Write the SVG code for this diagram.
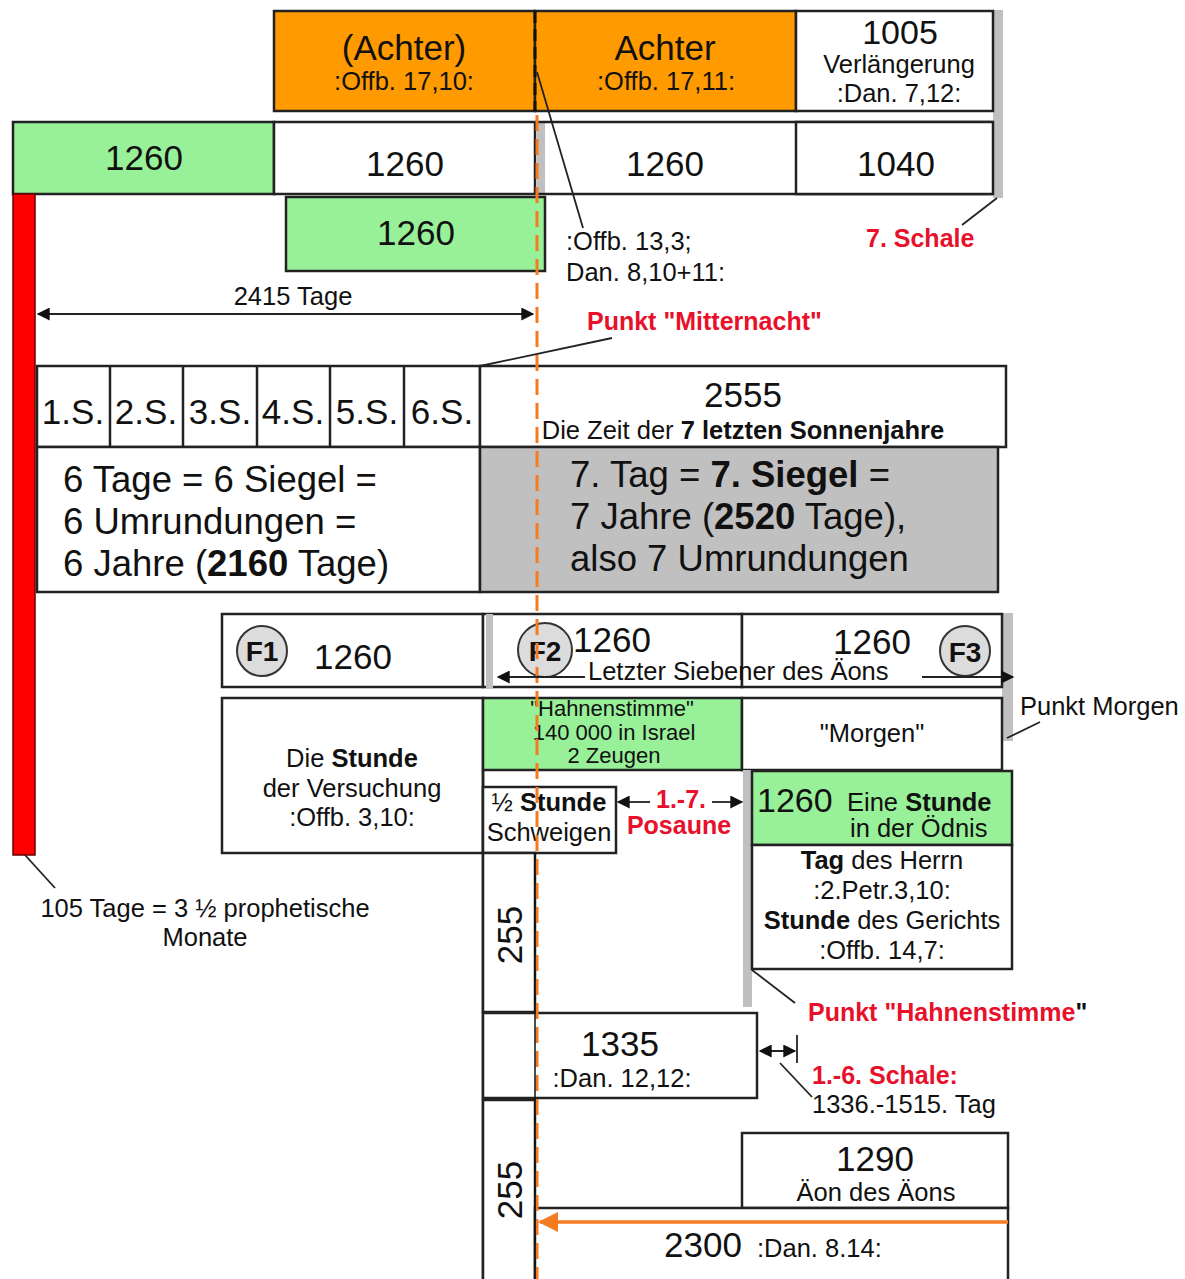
<svg xmlns="http://www.w3.org/2000/svg" width="1185" height="1279" viewBox="0 0 1185 1279">
<style>
text{font-family:"Liberation Sans",Arial,sans-serif;fill:#111}
.b{stroke:#222;stroke-width:2.5}
.w{fill:#fff}
.o{fill:#FF9A00}
.g{fill:#98F098}
.gr{fill:#C0C0C0}
.c{text-anchor:middle}
.bd{font-weight:bold}
.red{fill:#E8102A;font-weight:bold;font-size:25px}
.big{font-size:35px}
.mid{font-size:25.5px}
.par{font-size:36.5px}
.ln{stroke:#222;stroke-width:1.8;fill:none}
.circ{fill:#DCDCDC;stroke:#333;stroke-width:2}
</style>
<defs>
<marker id="ahb" viewBox="0 0 10 10" refX="9" refY="5" markerWidth="16" markerHeight="13" orient="auto-start-reverse" markerUnits="userSpaceOnUse"><path d="M0,0L10,5L0,10z" fill="#111"/></marker>
<marker id="aho" viewBox="0 0 10 10" refX="9" refY="5" markerWidth="20" markerHeight="22" orient="auto-start-reverse" markerUnits="userSpaceOnUse"><path d="M0,0L10,5L0,10z" fill="#F47B20"/></marker>
</defs>

<!-- gray strips -->
<rect class="gr" x="993" y="10" width="10" height="188"/>
<rect class="gr" x="537" y="122" width="8" height="73"/>

<g id="achter1"><rect class="o b" x="274" y="11" width="261" height="100"/>
<text class="c big" x="404" y="60">(Achter)</text><text class="c mid" x="404" y="90">:Offb. 17,10:</text></g>
<g id="achter2"><rect class="o b" x="535" y="11" width="261" height="100"/>
<text class="c big" x="665" y="60">Achter</text><text class="c mid" x="666" y="90">:Offb. 17,11:</text></g>
<g id="n1005"><rect class="w b" x="796" y="11" width="197" height="100"/>
<text class="c" x="900" y="44" font-size="34">1005</text><text class="c mid" x="899" y="73">Verlängerung</text><text class="c mid" x="899" y="102">:Dan. 7,12:</text></g>

<g id="row2a"><rect class="g b" x="13" y="122" width="261" height="72"/><text class="c big" x="144" y="170">1260</text></g>
<g id="row2b"><rect class="w b" x="274" y="122" width="261" height="72"/><text class="c big" x="405" y="176">1260</text></g>
<g id="row2c"><line class="b" x1="535" y1="122" x2="993" y2="122"/><line class="b" x1="535" y1="194" x2="993" y2="194"/><text class="c big" x="665" y="176">1260</text></g>
<g id="row2d"><rect class="w b" x="796" y="122" width="197" height="72"/><text class="c big" x="896" y="176">1040</text></g>

<g id="redbar"><rect x="13" y="194" width="22" height="661" fill="#FF0000" stroke="#600" stroke-width="1.5"/></g>

<g id="green2"><rect class="g b" x="286" y="197" width="259" height="74"/><text class="c big" x="416" y="245">1260</text></g>

<g id="offb133"><text class="mid" x="566" y="250" font-size="24">:Offb. 13,3;</text><text class="mid" x="566" y="281" font-size="24">Dan. 8,10+11:</text></g>
<g id="schale7"><text class="red" x="866" y="247">7. Schale</text></g>

<g id="tage2415"><text class="c mid" x="293" y="305">2415 Tage</text></g>
<g id="mitternacht"><text class="red" x="587" y="330">Punkt "Mitternacht"</text></g>

<g id="seals">
<rect class="w b" x="37" y="366" width="443" height="81"/>
<line class="b" x1="110" y1="366" x2="110" y2="447"/><line class="b" x1="183" y1="366" x2="183" y2="447"/><line class="b" x1="257" y1="366" x2="257" y2="447"/><line class="b" x1="330" y1="366" x2="330" y2="447"/><line class="b" x1="404" y1="366" x2="404" y2="447"/>
<g class="c big"><text x="73" y="424">1.S.</text><text x="146" y="424">2.S.</text><text x="220" y="424">3.S.</text><text x="293" y="424">4.S.</text><text x="367" y="424">5.S.</text><text x="442" y="424">6.S.</text></g>
</g>
<g id="n2555"><rect class="w b" x="480" y="366" width="526" height="81"/><text class="c big" x="743" y="407">2555</text><text class="c mid" x="743" y="439">Die Zeit der <tspan class="bd">7 letzten Sonnenjahre</tspan></text></g>

<g id="sechs"><rect class="w b" x="37" y="447" width="443" height="145"/>
<g class="par"><text x="63" y="492">6 Tage = 6 Siegel =</text><text x="63" y="534">6 Umrundungen =</text><text x="63" y="576">6 Jahre (<tspan class="bd">2160</tspan> Tage)</text></g></g>
<g id="sieben"><rect class="gr b" x="480" y="447" width="518" height="145"/>
<g class="par"><text x="570" y="487">7. Tag = <tspan class="bd">7. Siegel</tspan> =</text><text x="570" y="529">7 Jahre (<tspan class="bd">2520</tspan> Tage),</text><text x="570" y="571">also 7 Umrundungen</text></g></g>

<!-- F row -->
<rect class="gr" x="1002" y="613" width="11" height="128"/>
<g id="f1"><rect class="w b" x="222" y="614" width="261" height="73"/><circle class="circ" cx="262" cy="651" r="25"/><text class="c bd" x="262" y="661" font-size="28">F1</text><text class="c big" x="353" y="669">1260</text></g>
<g id="f2"><rect class="w b" x="483" y="614" width="259" height="73"/><rect class="gr" x="486" y="614" width="7" height="75"/><circle class="circ" cx="545" cy="650" r="27"/><text class="c bd" x="545" y="661" font-size="28">F2</text><text x="573" y="652" class="big">1260</text></g>
<g id="f3"><rect class="w b" x="742" y="614" width="260" height="73"/><circle class="circ" cx="965" cy="651" r="25"/><text class="c bd" x="965" y="662" font-size="28">F3</text><text x="833" y="654" class="big">1260</text></g>
<g id="siebener"><text class="mid" x="588" y="680">Letzter Siebener des Äons</text></g>

<g id="versuchung"><rect class="w b" x="222" y="698" width="261" height="155"/><g class="c mid"><text x="352" y="767">Die <tspan class="bd">Stunde</tspan></text><text x="352" y="797">der Versuchung</text><text x="352" y="826">:Offb. 3,10:</text></g></g>
<g id="hahnen"><rect class="g b" x="483" y="698" width="259" height="72"/><g class="c" font-size="22"><text x="612" y="716">"Hahnenstimme"</text><text x="614" y="740">140 000 in Israel</text><text x="614" y="763">2 Zeugen</text></g></g>
<g id="morgen"><rect class="w b" x="742" y="698" width="260" height="72"/><text class="c mid" x="872" y="742">"Morgen"</text></g>
<g id="punktmorgen"><text class="mid" x="1020" y="715">Punkt Morgen</text></g>

<!-- middle column -->
<rect class="gr" x="743" y="770" width="9" height="237"/>
<line class="b" x1="483" y1="770" x2="483" y2="1279"/>
<g id="halb"><rect class="w b" x="483" y="787" width="133" height="66"/><g class="c mid"><text x="549" y="811">½ <tspan class="bd">Stunde</tspan></text><text x="549" y="841">Schweigen</text></g></g>
<g id="posaune"><text class="red c" x="681" y="808">1.-7.</text><text class="red c" x="679" y="834">Posaune</text></g>
<g id="oednis"><rect class="g b" x="752" y="771" width="260" height="74"/><text x="757" y="812" font-size="34">1260</text><text class="mid" x="847" y="811">Eine <tspan class="bd">Stunde</tspan></text><text class="mid" x="850" y="837">in der Ödnis</text></g>
<g id="herrn"><rect class="w b" x="752" y="845" width="260" height="124"/><g class="c mid"><text x="882" y="869"><tspan class="bd">Tag</tspan> des Herrn</text><text x="882" y="899">:2.Petr.3,10:</text><text x="882" y="929"><tspan class="bd">Stunde</tspan> des Gerichts</text><text x="882" y="959">:Offb. 14,7:</text></g></g>
<g id="punkthahnen"><text class="red" x="808" y="1021">Punkt "Hahnenstimme<tspan fill="#111">"</tspan></text></g>

<g id="s255a"><rect class="w b" x="483" y="853" width="52" height="159"/><text class="c big" transform="translate(522,935) rotate(-90)">255</text></g>
<g id="n1335"><rect class="w b" x="483" y="1013" width="274" height="85"/><text class="c big" x="620" y="1056">1335</text><text class="c mid" x="622" y="1087">:Dan. 12,12:</text></g>
<g id="schale16"><text class="red" x="812" y="1084">1.-6. Schale:</text><text class="mid" x="812" y="1113">1336.-1515. Tag</text></g>
<g id="s255b"><rect class="w b" x="483" y="1100" width="52" height="190"/><text class="c big" transform="translate(522,1190) rotate(-90)">255</text></g>
<g id="n1290"><rect class="w b" x="742" y="1133" width="266" height="75"/><text class="c big" x="875" y="1171">1290</text><text class="c mid" x="876" y="1201">Äon des Äons</text></g>
<g id="n2300"><rect class="w b" x="535" y="1208" width="473" height="90"/><text x="664" y="1257" class="big">2300</text><text class="mid" x="757" y="1257">:Dan. 8.14:</text></g>

<g id="tage105"><text class="c mid" x="205" y="917">105 Tage = 3 ½ prophetische</text><text class="c mid" x="205" y="946">Monate</text></g>

<g id="connectors">
<line x1="535" y1="11" x2="535" y2="111" stroke="#111" stroke-width="3" stroke-dasharray="12 6"/>
<line x1="537" y1="115" x2="537" y2="1279" stroke="#F47B20" stroke-width="3" stroke-dasharray="16 8"/>
<line x1="537" y1="72" x2="583" y2="228" class="ln"/>
<line x1="997" y1="198" x2="962" y2="225" class="ln"/>
<line x1="38" y1="314" x2="533" y2="314" class="ln" marker-start="url(#ahb)" marker-end="url(#ahb)"/>
<line x1="480" y1="366" x2="612" y2="338" class="ln"/>
<line x1="585" y1="677" x2="498" y2="677" class="ln" marker-end="url(#ahb)"/>
<line x1="922" y1="677" x2="1013" y2="677" class="ln" marker-end="url(#ahb)"/>
<line x1="1007" y1="738" x2="1040" y2="722" class="ln"/>
<line x1="650" y1="802" x2="618" y2="802" class="ln" marker-end="url(#ahb)"/>
<line x1="712" y1="802" x2="742" y2="802" class="ln" marker-end="url(#ahb)"/>
<line x1="752" y1="970" x2="795" y2="1003" class="ln"/>
<line x1="760" y1="1051" x2="795" y2="1051" class="ln" marker-start="url(#ahb)" marker-end="url(#ahb)"/>
<line x1="797" y1="1035" x2="797" y2="1063" class="ln"/>
<line x1="780" y1="1063" x2="812" y2="1097" class="ln"/>
<line x1="25" y1="855" x2="55" y2="888" class="ln"/>
<line x1="535" y1="853" x2="535" y2="1279" stroke="#111" stroke-width="1.5"/>
<line x1="1008" y1="1222" x2="540" y2="1222" stroke="#F47B20" stroke-width="3.5" marker-end="url(#aho)"/>
</g>
</svg>
